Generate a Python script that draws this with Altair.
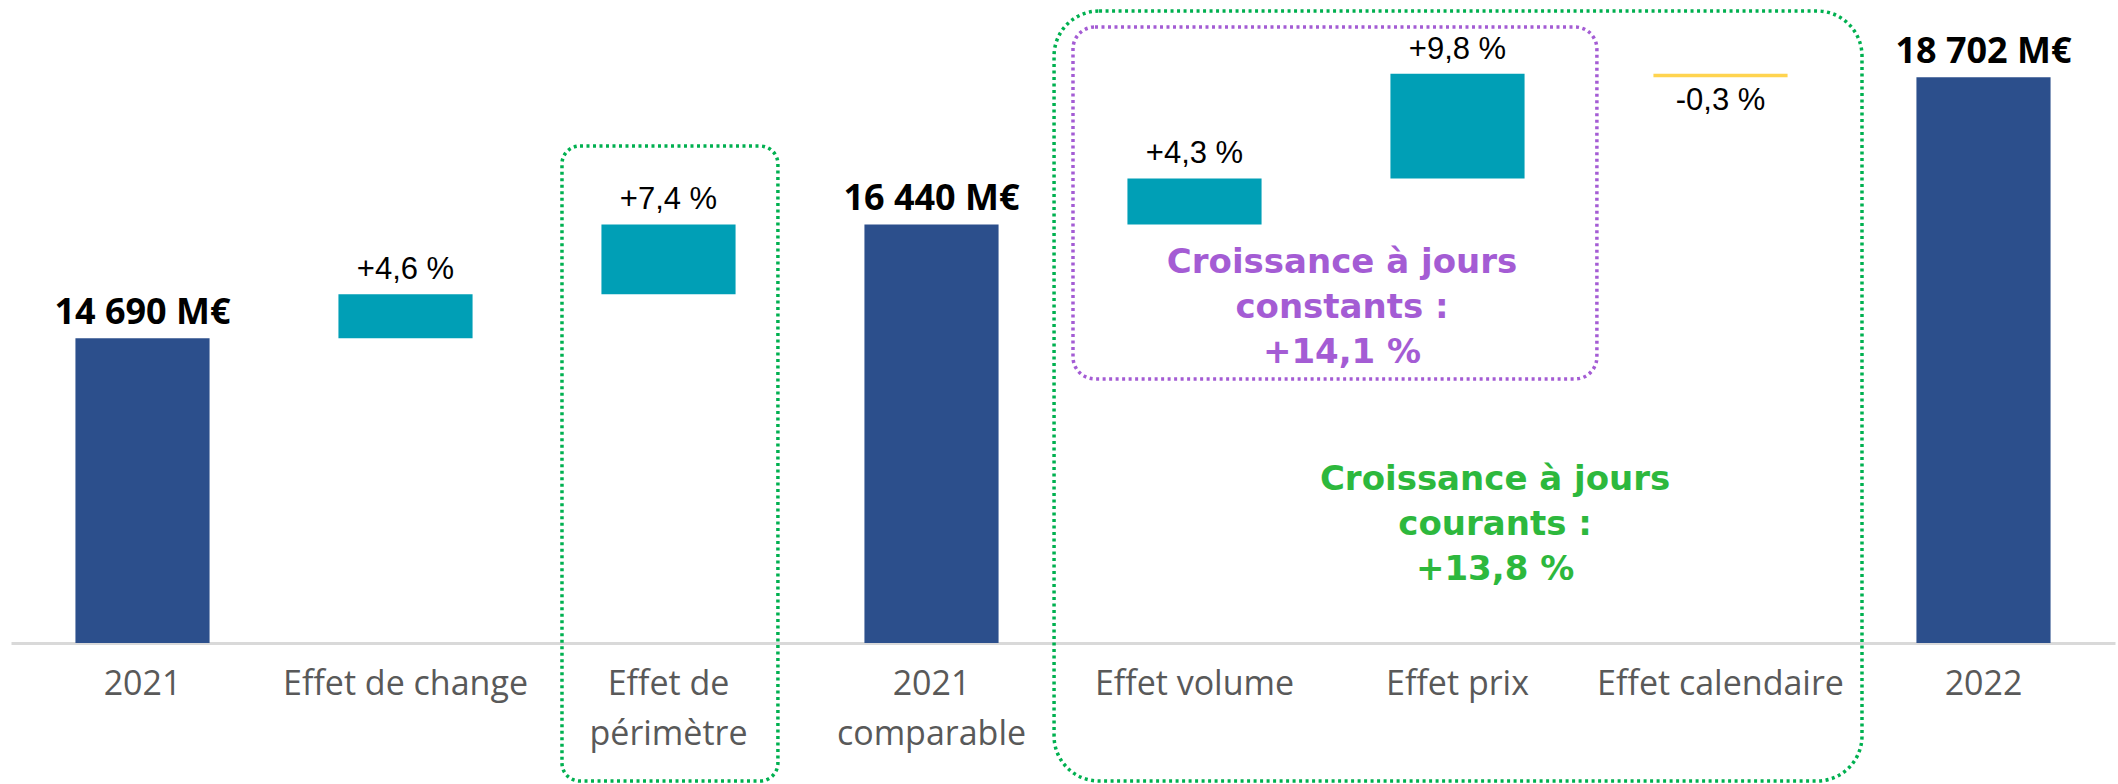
import altair as alt
import pandas as pd

# ---------------- data ----------------
categories = ["2021", "Effet de change", "Effet de\npérimètre", "2021\ncomparable",
              "Effet volume", "Effet prix", "Effet calendaire", "2022"]
kinds = ["total", "up", "up", "total", "up", "up", "down", "total"]
# cumulated revenue (M€) after each step
levels = [14690, 15366, 16440, 16440, 17147, 18758, 18702, 18702]
labels = ["14 690 M€", "+4,6 %", "+7,4 %", "16 440 M€",
          "+4,3 %", "+9,8 %", "-0,3 %", "18 702 M€"]

note_purple = ["Croissance à jours", "constants :", "+14,1 %"]
note_green = ["Croissance à jours", "courants :", "+13,8 %"]

# ---------------- layout / style ----------------
Y_MIN, Y_MAX = 10000, 19892
W, H = 2104, 643
PX_PER_UNIT = H / (Y_MAX - Y_MIN)
C_TOTAL, C_UP, C_DOWN = "#2C4F8C", "#009FB6", "#FFD44F"
C_GREEN_BOX, C_GREEN_TXT, C_PURPLE = "#00B050", "#2DB83D", "#A45CD4"
FONT = "Open Sans"

starts = []
for i, k in enumerate(kinds):
    starts.append(Y_MIN if k == "total" else levels[i - 1])

df = pd.DataFrame({"cat": categories, "kind": kinds, "start": starts,
                   "end": levels, "label": labels})

yscale = alt.Scale(domain=[Y_MIN, Y_MAX], nice=False, zero=False)
xband = alt.X("cat:N", sort=categories, title=None,
              scale=alt.Scale(paddingInner=0.49, paddingOuter=0.245),
              axis=alt.Axis(labelExpr="split(datum.label, '\\n')", labelAngle=0,
                            labelFontSize=34, labelFont=FONT, labelColor="#595959",
                            labelLineHeight=50, labelPadding=24, ticks=False,
                            labelLimit=0, labelOverlap=False,
                            domainColor="#D9D9D9", domainWidth=3, labelBaseline="top"))

base = alt.Chart(df)

bars = base.mark_bar().encode(
    x=xband,
    y=alt.Y("start:Q", scale=yscale, axis=None),
    y2="end:Q",
    color=alt.Color("kind:N", scale=alt.Scale(domain=["total", "up", "down"],
                                              range=[C_TOTAL, C_UP, C_DOWN]), legend=None),
)

tot_lab = base.transform_filter(alt.datum.kind == "total").mark_text(
    font=FONT, fontSize=36, fontWeight="bold", color="#000000",
    baseline="alphabetic", dy=-14).encode(
    x=alt.X("cat:N", sort=categories), y=alt.Y("end:Q", scale=yscale, axis=None),
    text="label:N")

up_lab = base.transform_filter(alt.datum.kind == "up").mark_text(
    font="Liberation Sans", fontSize=31, color="#000000",
    baseline="alphabetic", dy=-15).encode(
    x=alt.X("cat:N", sort=categories), y=alt.Y("end:Q", scale=yscale, axis=None),
    text="label:N")

down_lab = base.transform_filter(alt.datum.kind == "down").mark_text(
    font="Liberation Sans", fontSize=31, color="#000000",
    baseline="top", dy=9).encode(
    x=alt.X("cat:N", sort=categories), y=alt.Y("end:Q", scale=yscale, axis=None),
    text="label:N")

main = alt.layer(bars, tot_lab, up_lab, down_lab)

# ---------------- annotation overlay (x in category-slot units) ----------------
xq = alt.Scale(domain=[0, 8], nice=False, zero=False)
boxes = [
    (2.095, 2.916, 7877, 17646, C_GREEN_BOX, 18),
    (3.966, 7.038, 7877, 19723, C_GREEN_BOX, 45),
    (4.038, 6.030, 14062, 19477, C_PURPLE, 22),
]
box_layers = []
for x0, x1, y0, y1, col, rad in boxes:
    bdf = pd.DataFrame({"x0": [x0], "x1": [x1], "y0": [y0], "y1": [y1]})
    box_layers.append(
        alt.Chart(bdf).mark_rect(fillOpacity=0, stroke=col, strokeWidth=3.5,
                                 strokeDash=[3, 3.5], cornerRadius=rad, clip=False).encode(
            x=alt.X("x0:Q", scale=xq, axis=None), x2="x1:Q",
            y=alt.Y("y0:Q", scale=yscale, axis=None), y2="y1:Q"))

LINE_STEP = 45 / PX_PER_UNIT
rows = []
for lines, xc, y_first, col in [(note_purple, 5.061, 15692, C_PURPLE),
                                (note_green, 5.643, 12354, C_GREEN_TXT)]:
    for i, t in enumerate(lines):
        rows.append({"x": xc, "y": y_first - i * LINE_STEP, "t": t, "c": col})
notes_df = pd.DataFrame(rows)
notes = alt.Chart(notes_df).mark_text(
    font="DejaVu Sans", fontSize=34, fontWeight="bold",
    baseline="alphabetic", align="center").encode(
    x=alt.X("x:Q", scale=xq, axis=None),
    y=alt.Y("y:Q", scale=yscale, axis=None),
    text="t:N",
    color=alt.Color("c:N", scale=None))

overlay = alt.layer(*box_layers, notes)

chart = alt.layer(main, overlay).resolve_scale(x="independent").properties(
    width=W, height=H,
    background="white",
    autosize=alt.AutoSizeParams(type="none"),
    padding={"left": 11, "top": 0, "right": 3, "bottom": 141},
).configure_view(stroke=None, strokeWidth=0)

chart.save("out.html", embed_options={"renderer": "svg", "actions": False})
